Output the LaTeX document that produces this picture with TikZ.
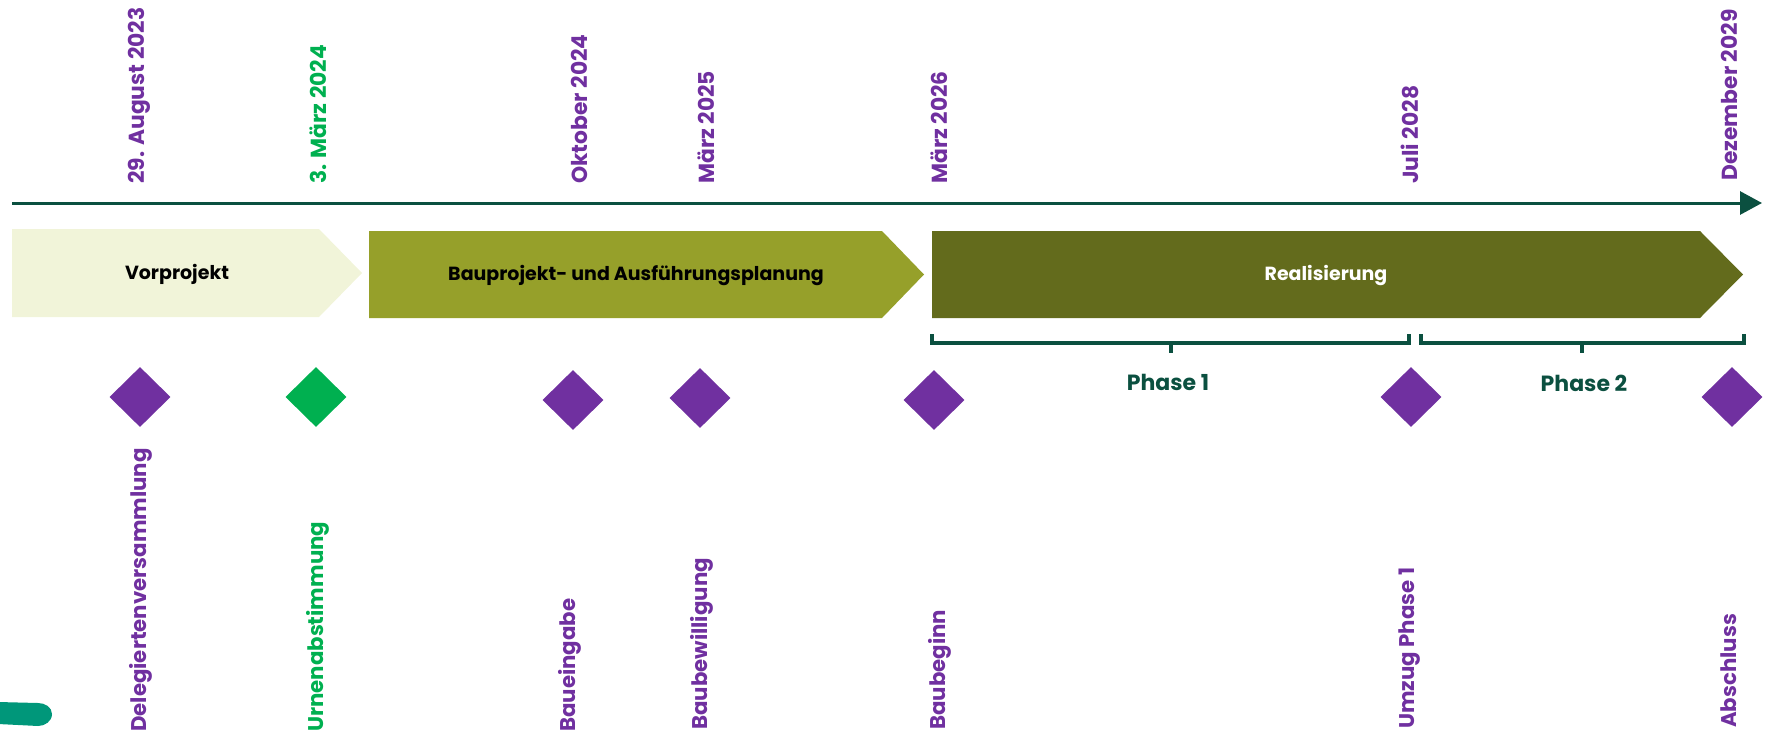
\documentclass[tikz,border=0pt]{standalone}
\usepackage{fontspec}
\setmainfont{Poppins}
\usetikzlibrary{arrows.meta,shapes.geometric}
\definecolor{purp}{HTML}{7030A0}
\definecolor{grn}{HTML}{00B050}
\definecolor{axisg}{HTML}{0B5040}
\definecolor{ph1}{HTML}{F1F4D9}
\definecolor{ph2}{HTML}{96A02A}
\definecolor{ph3}{HTML}{636B1C}
\definecolor{tealb}{HTML}{00977A}
\tikzset{
  datelbl/.style={rotate=90,anchor=west,inner sep=0pt,font=\fontsize{21.8}{26}\selectfont\bfseries,text=purp},
  evtlbl/.style={rotate=90,anchor=west,inner sep=0pt,font=\fontsize{21.3}{26}\selectfont\bfseries,text=purp},
  ms/.style={shape=diamond,fill=purp,inner sep=0pt,minimum width=61pt,minimum height=60pt},
  phtext/.style={font=\fontsize{19}{22}\selectfont\bfseries,inner sep=0pt},
  brace/.style={draw=axisg,line width=3.5pt},
  bracelbl/.style={font=\fontsize{22}{26}\selectfont\bfseries,text=axisg,inner sep=0pt}
}
\begin{document}
\begin{tikzpicture}[x=1pt,y=-1pt]
\useasboundingbox (0,0) rectangle (1769,739);
% axis
\coordinate (axs) at (12,203);
\coordinate (axe) at (1762,203);
\draw[axisg,line width=3pt,-{Triangle[length=22pt,width=23pt]}] (axs) -- (axe);
% phases
\fill[ph1] (12,229) -- (319,229) -- (362,273) -- (319,317) -- (12,317) -- cycle;
\node[phtext] (vp) at (177,274) {Vorprojekt};
\fill[ph2] (369,231) -- (882,231) -- (924,274.5) -- (882,318) -- (369,318) -- cycle;
\node[phtext] (bp) at (636,275) {Bauprojekt- und Ausführungsplanung};
\fill[ph3] (932,231) -- (1700,231) -- (1743,274.5) -- (1700,318) -- (932,318) -- cycle;
\node[phtext,text=white] (re) at (1326,275) {Realisierung};
% braces
\draw[brace] (932,334) -- (932,343) -- (1409,343) -- (1409,334);
\draw[brace] (1171,343) -- (1171,353);
\draw[brace] (1421,334) -- (1421,343) -- (1744,343) -- (1744,334);
\draw[brace] (1582,343) -- (1582,353);
\node[bracelbl] (p1) at (1168,382) {Phase 1};
\node[bracelbl] (p2) at (1584,383) {Phase 2};
% date labels
\node[datelbl] (d1) at (139,184) {29. August 2023};
\node[datelbl,text=grn] (d2) at (318,184) {3. März 2024};
\node[datelbl] (d3) at (579,184) {Oktober 2024};
\node[datelbl] (d4) at (706,184) {März 2025};
\node[datelbl] (d5) at (939,184) {März 2026};
\node[datelbl] (d6) at (1410,184) {Juli 2028};
\node[datelbl] (d7) at (1729,181) {Dezember 2029};
% milestones
\node[ms] (m1) at (140,397) {};
\node[ms,fill=grn] (m2) at (316,397) {};
\node[ms] (m3) at (573,400) {};
\node[ms] (m4) at (700,398) {};
\node[ms] (m5) at (934,400) {};
\node[ms] (m6) at (1411,397) {};
\node[ms] (m7) at (1732,397) {};
% event labels
\node[evtlbl] (e1) at (141,732) {Delegiertenversammlung};
\node[evtlbl,text=grn] (e2) at (318,732) {Urnenabstimmung};
\node[evtlbl] (e3) at (570,732) {Baueingabe};
\node[evtlbl] (e4) at (702,730) {Baubewilligung};
\node[evtlbl] (e5) at (940,730) {Baubeginn};
\node[evtlbl] (e6) at (1410,729) {Umzug Phase 1};
\node[evtlbl] (e7) at (1729,728) {Abschluss};
% teal blob
\fill[tealb] (-2,702) -- (38,703) to[out=0,in=90] (52,714) to[out=-90,in=0] (38,726) -- (-2,724) -- cycle;
\end{tikzpicture}
\end{document}
